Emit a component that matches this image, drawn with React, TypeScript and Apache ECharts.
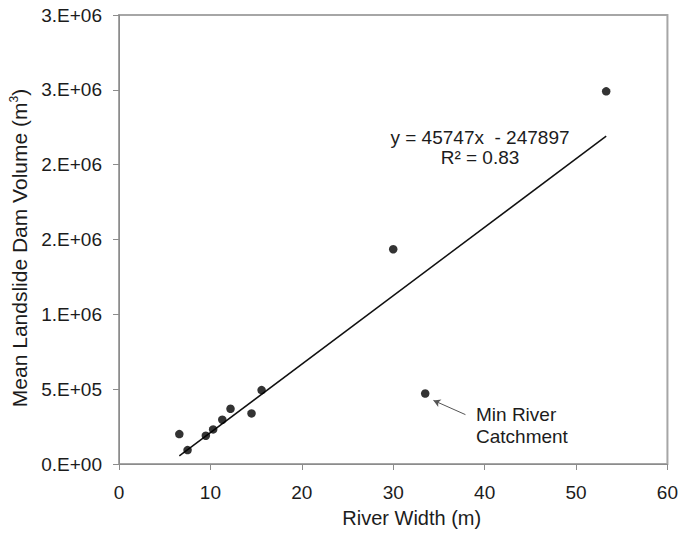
import React, { useEffect, useRef } from "react";
import * as echarts from "echarts";

// River width (m) and mean landslide dam volume (m³) per site
const riverWidth = [6.6, 7.5, 9.5, 10.3, 11.3, 12.2, 14.5, 15.6, 30.0, 33.5, 53.3];
const damVolume = [200000, 93000, 189000, 231000, 296000, 369000, 338000, 494000, 1435000, 471000, 2490000];

// Linear fit reported on the chart
const slope = 45747;
const intercept = -247897;
const rSquared = "0.83";
const fitRange = [6.6, 53.3];

// Y tick labels as printed in 0.E+00 format
const yTickLabels = ["0.E+00", "5.E+05", "1.E+06", "2.E+06", "2.E+06", "3.E+06", "3.E+06"];
const xTicks = [0, 10, 20, 30, 40, 50, 60];

// Annotated outlier and its arrow (from -> to, data coords)
const arrowFrom = [37.9, 330000];
const arrowTo = [34.4, 425000];

const FONT = "'Liberation Sans', Arial, sans-serif";
const INK = "#1c1c1c";

export default function App() {
  const ref = useRef<HTMLDivElement>(null);

  useEffect(() => {
    if (!ref.current) return;
    const chart = echarts.init(ref.current, undefined, { renderer: "svg" });

    const points = riverWidth.map((w, i) => [w, damVolume[i]]);
    const fit = fitRange.map((x) => [x, slope * x + intercept]);

    chart.setOption({
      animation: false,
      backgroundColor: "#fff",
      textStyle: { fontFamily: FONT },
      grid: {
        left: 119,
        right: 13,
        top: 15,
        bottom: 69,
        show: true,
        borderColor: "#a6a6a6",
        borderWidth: 2,
        backgroundColor: "transparent",
      },
      xAxis: {
        type: "value",
        min: xTicks[0],
        max: xTicks[xTicks.length - 1],
        interval: 10,
        name: "River Width (m)",
        nameLocation: "middle",
        nameGap: 44,
        nameTextStyle: { fontSize: 20, color: INK, fontFamily: FONT, padding: [0, 0, 0, 37] },
        axisLine: { show: true, lineStyle: { color: "#8c8c8c", width: 1 } },
        axisTick: { show: true, inside: false, length: 6, lineStyle: { color: "#8c8c8c" } },
        axisLabel: { fontSize: 19, color: INK, margin: 19, fontFamily: FONT },
        splitLine: { show: false },
      },
      yAxis: {
        type: "value",
        min: 0,
        max: 3000000,
        interval: 500000,
        name: "{a|Mean Landslide Dam Volume (m}{s|3}{a|)}",
        nameLocation: "middle",
        nameGap: 82,
        nameTextStyle: {
          fontSize: 21,
          color: INK,
          fontFamily: FONT,
          padding: [0, 17, 0, 0],
          rich: {
            a: { fontSize: 21, color: INK, fontFamily: FONT, lineHeight: 24 },
            s: { fontSize: 12, color: INK, fontFamily: FONT, lineHeight: 24, padding: [0, 0, 10, 0] },
          },
        },
        axisLine: { show: true, lineStyle: { color: "#8c8c8c", width: 1 } },
        axisTick: { show: true, inside: false, length: 6, lineStyle: { color: "#8c8c8c" } },
        axisLabel: {
          fontSize: 19,
          color: INK,
          margin: 17,
          fontFamily: FONT,
          formatter: (v: number) => yTickLabels[Math.round(v / 500000)] ?? "",
        },
        splitLine: { show: false },
      },
      series: [
        {
          type: "line",
          data: fit,
          showSymbol: false,
          symbol: "none",
          lineStyle: { color: "#111", width: 1.5 },
          z: 2,
        },
        {
          type: "scatter",
          data: points,
          symbol: "circle",
          symbolSize: 8.5,
          itemStyle: { color: "#000" },
          z: 3,
          markLine: {
            silent: true,
            symbol: ["none", "arrow"],
            symbolSize: [6, 7],
            label: { show: false },
            lineStyle: { color: "#555", width: 1, type: "solid" },
            data: [[{ coord: arrowFrom }, { coord: arrowTo }]],
          },
        },
      ],
      graphic: [
        {
          type: "text",
          x: 480,
          y: 137,
          style: {
            text: `y = ${slope}x  - ${Math.abs(intercept)}`,
            fontSize: 19,
            fontFamily: FONT,
            fill: INK,
            align: "center",
            verticalAlign: "middle",
          },
        },
        {
          type: "text",
          x: 480,
          y: 157,
          style: {
            text: `R² = ${rSquared}`,
            fontSize: 19,
            fontFamily: FONT,
            fill: INK,
            align: "center",
            verticalAlign: "middle",
          },
        },
        {
          type: "text",
          x: 476,
          y: 425,
          style: {
            text: "Min River\nCatchment",
            fontSize: 19,
            lineHeight: 22,
            fontFamily: FONT,
            fill: INK,
            align: "left",
            verticalAlign: "middle",
          },
        },
      ],
    });

    return () => chart.dispose();
  }, []);

  return (
    <div
      ref={ref}
      style={{ position: "fixed", left: 0, top: 0, width: 681, height: 533, background: "#fff" }}
    />
  );
}
